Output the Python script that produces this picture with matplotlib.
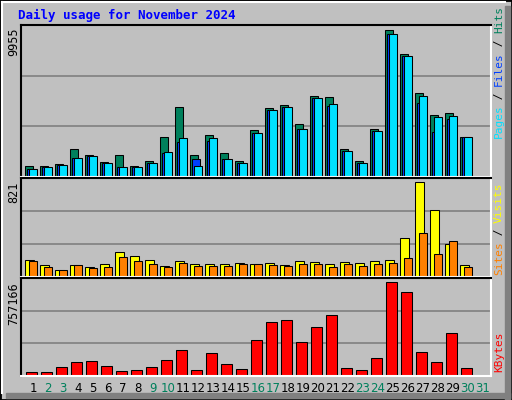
import matplotlib.pyplot as plt
from matplotlib.patches import Rectangle

days = list(range(1, 32))
weekend = [2, 3, 9, 10, 16, 17, 23, 24, 30, 31]

hits = [723, 723, 899, 1873, 1507, 1034, 1467, 723, 1082, 2684, 4712, 1467, 2819, 1602, 1082, 3157,
        4644, 4847, 3563, 5455, 5388, 1873, 1082, 3225, 9955, 8295, 5658, 4171, 4306, 2684, 0]
files = [561, 656, 831, 1305, 1399, 926, 676, 656, 967, 1622, 2346, 1197, 2413, 1197, 967, 2954,
         4509, 4712, 3225, 5320, 4779, 1778, 967, 3089, 9687, 8159, 4982, 3022, 3901, 2684, 0]
pages = [561, 656, 831, 1305, 1399, 926, 676, 656, 967, 1670, 2616, 723, 2616, 1197, 967, 2954,
         4509, 4712, 3225, 5320, 4915, 1778, 967, 3089, 9687, 8159, 5455, 4036, 4103, 2684, 0]
visits = [149, 101, 65, 101, 83, 109, 220, 181, 145, 92, 136, 109, 109, 109, 118, 109,
          118, 101, 136, 127, 109, 127, 118, 136, 145, 341, 821, 581, 287, 101, 0]
sites = [136, 83, 65, 101, 74, 83, 172, 136, 109, 83, 118, 92, 92, 92, 109, 109,
         101, 92, 109, 109, 83, 109, 92, 109, 118, 163, 385, 198, 314, 83, 0]
kbytes = [30551, 30551, 71836, 113121, 121378, 80093, 38808, 47065, 71836, 129635, 212205, 47065,
          187434, 96607, 55322, 286518, 435144, 451658, 270004, 393859, 492943, 63579, 47065,
          146149, 757166, 674597, 195691, 113121, 344317, 63579, 0]

BG = '#c0c0c0'
C_HITS, C_FILES, C_PAGES = '#00805c', '#0040ff', '#00e0ff'
C_VIS, C_SITES, C_KB = '#ffff00', '#ff8000', '#ff0000'
W, H = 512, 400
LW = 0.75

fig = plt.figure(figsize=(W / 100, H / 100), dpi=100, facecolor=BG)

# frame: black outline, white bevel, gray shadow
fig.patches.append(Rectangle((0, 0), 1, 1, transform=fig.transFigure, fill=False, ec='black', lw=2))
fig.patches.append(Rectangle((505 / W, 0), 5 / W, 1 - 6 / H, transform=fig.transFigure, color='#808080'))
fig.patches.append(Rectangle((6 / W, 2 / H), 1 - 8 / W, 5 / H, transform=fig.transFigure, color='#808080'))
fig.add_artist(plt.Line2D([2 / W, 505 / W], [1 - 2 / H] * 2, color='white', lw=1.5))
fig.add_artist(plt.Line2D([2 / W] * 2, [7 / H, 1 - 2 / H], color='white', lw=1.5))


def panel(top, bottom):
    ax = fig.add_axes([20.7 / W, 1 - bottom / H, (491 - 20.7) / W, (bottom - top) / H])
    ax.set_facecolor(BG)
    ax.set_xlim(0.18, 31.53)
    ax.set_xticks([])
    ax.set_yticks([])
    for s in ['top', 'left']:
        ax.spines[s].set_color('black')
    for s in ['bottom', 'right']:
        ax.spines[s].set_color('white')
    for s in ax.spines.values():
        s.set_linewidth(1.5)
    return ax


def grid(ax, top):
    ax.set_ylim(0, top)
    for f in (1 / 3, 2 / 3):
        ax.axhline(top * f, color='#808080', lw=1.2, zorder=0)


x = [d for d in days]
u = 1 / 15

ax1 = panel(25, 177)
grid(ax1, 10270)
ax1.bar([d - 8 * u for d in x], hits, width=8 * u, align='edge', color=C_HITS, ec='black', lw=LW)
ax1.bar([d - 6.3 * u for d in x], files, width=8 * u, align='edge', color=C_FILES, ec='black', lw=LW)
ax1.bar([d - 4 * u for d in x], pages, width=8 * u, align='edge', color=C_PAGES, ec='black', lw=LW)

ax2 = panel(178, 277)
grid(ax2, 860)
ax2.bar([d - 8 * u for d in x], visits, width=8.7 * u, align='edge', color=C_VIS, ec='black', lw=LW)
ax2.bar([d - 4 * u for d in x], sites, width=7.7 * u, align='edge', color=C_SITES, ec='black', lw=LW)

ax3 = panel(278, 376)
grid(ax3, 787000)
ax3.bar([d - 7 * u for d in x], kbytes, width=10.7 * u, align='edge', color=C_KB, ec='black', lw=LW)

fig.text(18 / W, 1 - 15 / H, 'Daily usage for November 2024', color='#0000ff',
         family='DejaVu Sans Mono', weight='bold', fontsize=9, va='center')

for y, lab in [(28, '9955'), (182, '821'), (282, '757166')]:
    fig.text(14 / W, 1 - y / H, lab, rotation=90, ha='center', va='top',
             family='DejaVu Sans Mono', fontsize=8.5)


def side(parts, ystart):
    y = ystart
    for txt, col in parts:
        t = fig.text(499 / W, 1 - y / H, txt, rotation=90, ha='center', va='bottom',
                     family='DejaVu Sans Mono', fontsize=8, color=col)
        y -= len(txt) * 6.3 + 1


side([('Pages', C_PAGES), (' / ', 'black'), ('Files', C_FILES), (' / ', 'black'), ('Hits', C_HITS)], 138)
side([('Sites', C_SITES), (' / ', 'black'), ('Visits', C_VIS)], 275)
side([('KBytes', C_KB)], 372)

for d in days:
    fig.text((33 + 15 * (d - 1)) / W, 1 - 388 / H, str(d), ha='center', va='center', fontsize=8.5,
             color=C_HITS if d in weekend else 'black')

fig.savefig('out.png', dpi=100, facecolor=BG)
